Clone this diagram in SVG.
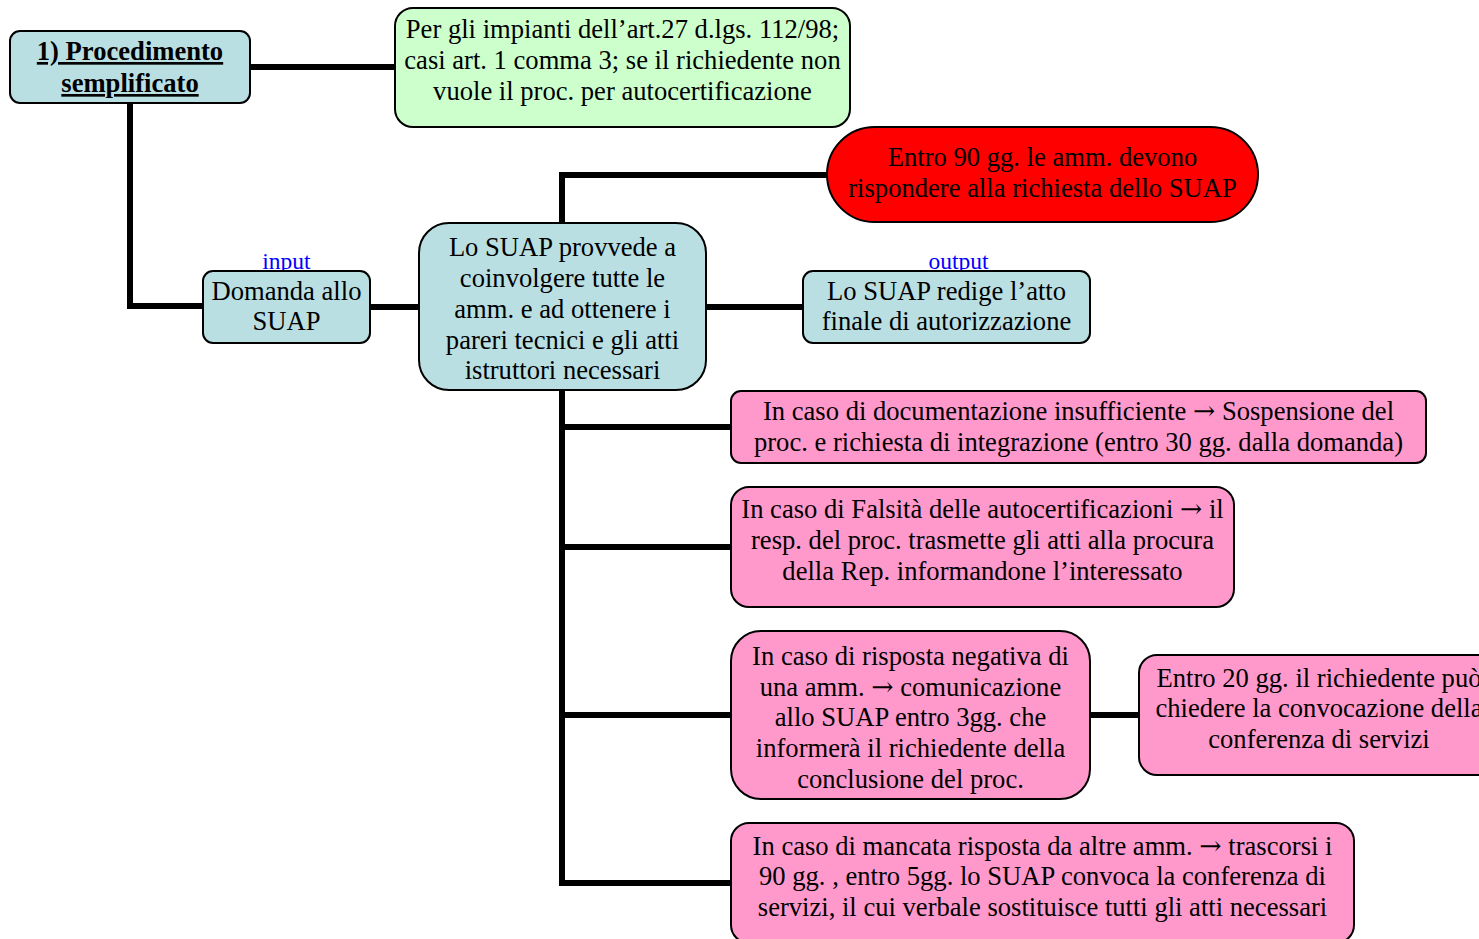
<svg xmlns="http://www.w3.org/2000/svg" width="1479" height="939" viewBox="0 0 1479 939">
<style>
.box{stroke:#000;stroke-width:2}
.blue{fill:#b9dfe3}
.green{fill:#ccffcc}
.red{fill:#ff0000}
.pink{fill:#ff99cc}
.conn{stroke:#000;stroke-width:6;fill:none}
text{font-family:"Liberation Serif","Times New Roman",serif;font-size:26.6px;fill:#000;text-anchor:middle}
.ar{font-family:"DejaVu Serif",serif;font-size:26.6px}
.title{font-weight:bold;text-decoration:underline}
.lbl{font-size:23.5px;fill:#0000ff;text-decoration:underline}
</style>
<rect width="1479" height="939" fill="#fff"/>
<g id="connectors">
<path class="conn" d="M250 67H395"/>
<path class="conn" d="M130 103V306H203"/>
<path class="conn" d="M370 307H419"/>
<path class="conn" d="M562 223V175H827"/>
<path class="conn" d="M706 307H803"/>
<path class="conn" d="M562 390V883H731"/>
<path class="conn" d="M562 427H731"/>
<path class="conn" d="M562 547H731"/>
<path class="conn" d="M562 715H731"/>
<path class="conn" d="M1090 715H1139"/>
</g>
<g id="n1">
<rect class="box blue" x="10" y="31" width="240" height="72" rx="10"/>
<text class="title" x="130" y="60">1) Procedimento</text>
<text class="title" x="130" y="92">semplificato</text>
</g>
<g id="n2">
<rect class="box green" x="395" y="8" width="455" height="119" rx="18"/>
<text x="622.5" y="38">Per gli impianti dell’art.27 d.lgs. 112/98;</text>
<text x="622.5" y="69">casi art. 1 comma 3; se il richiedente non</text>
<text x="622.5" y="100">vuole il proc. per autocertificazione</text>
</g>
<g id="n3">
<text class="lbl" x="286.5" y="269">input</text>
<rect class="box blue" x="203" y="271" width="167" height="72" rx="10"/>
<text x="286.5" y="300">Domanda allo</text>
<text x="286.5" y="330">SUAP</text>
</g>
<g id="n4">
<rect class="box blue" x="419" y="223" width="287" height="167" rx="30"/>
<text x="562.5" y="256">Lo SUAP provvede a</text>
<text x="562.5" y="287">coinvolgere tutte le</text>
<text x="562.5" y="318">amm. e ad ottenere i</text>
<text x="562.5" y="349">pareri tecnici e gli atti</text>
<text x="562.5" y="379">istruttori necessari</text>
</g>
<g id="n5">
<rect class="box red" x="827" y="127" width="431" height="95" rx="47.5"/>
<text x="1042.5" y="166">Entro 90 gg. le amm. devono</text>
<text x="1042.5" y="197">rispondere alla richiesta dello SUAP</text>
</g>
<g id="n6">
<text class="lbl" x="958.5" y="269">output</text>
<rect class="box blue" x="803" y="271" width="287" height="72" rx="10"/>
<text x="946.5" y="300">Lo SUAP redige l’atto</text>
<text x="946.5" y="330">finale di autorizzazione</text>
</g>
<g id="n7">
<rect class="box pink" x="731" y="391" width="695" height="72" rx="10"/>
<text x="1078.5" y="420">In caso di documentazione insufficiente <tspan class="ar">→</tspan> Sospensione del</text>
<text x="1078.5" y="451">proc. e richiesta di integrazione (entro 30 gg. dalla domanda)</text>
</g>
<g id="n8">
<rect class="box pink" x="731" y="487" width="503" height="120" rx="18"/>
<text x="982.5" y="518">In caso di Falsità delle autocertificazioni <tspan class="ar">→</tspan> il</text>
<text x="982.5" y="549">resp. del proc. trasmette gli atti alla procura</text>
<text x="982.5" y="580">della Rep. informandone l’interessato</text>
</g>
<g id="n9">
<rect class="box pink" x="731" y="631" width="359" height="168" rx="30"/>
<text x="910.5" y="665">In caso di risposta negativa di</text>
<text x="910.5" y="696">una amm. <tspan class="ar">→</tspan> comunicazione</text>
<text x="910.5" y="726">allo SUAP entro 3gg. che</text>
<text x="910.5" y="757">informerà il richiedente della</text>
<text x="910.5" y="788">conclusione del proc.</text>
</g>
<g id="n10">
<rect class="box pink" x="1139" y="655" width="360" height="120" rx="18"/>
<text x="1319" y="687">Entro 20 gg. il richiedente può</text>
<text x="1319" y="717">chiedere la convocazione della</text>
<text x="1319" y="748">conferenza di servizi</text>
</g>
<g id="n11">
<rect class="box pink" x="731" y="823" width="623" height="120" rx="18"/>
<text x="1042.5" y="855">In caso di mancata risposta da altre amm. <tspan class="ar">→</tspan> trascorsi i</text>
<text x="1042.5" y="885">90 gg. , entro 5gg. lo SUAP convoca la conferenza di</text>
<text x="1042.5" y="916">servizi, il cui verbale sostituisce tutti gli atti necessari</text>
</g>
</svg>
